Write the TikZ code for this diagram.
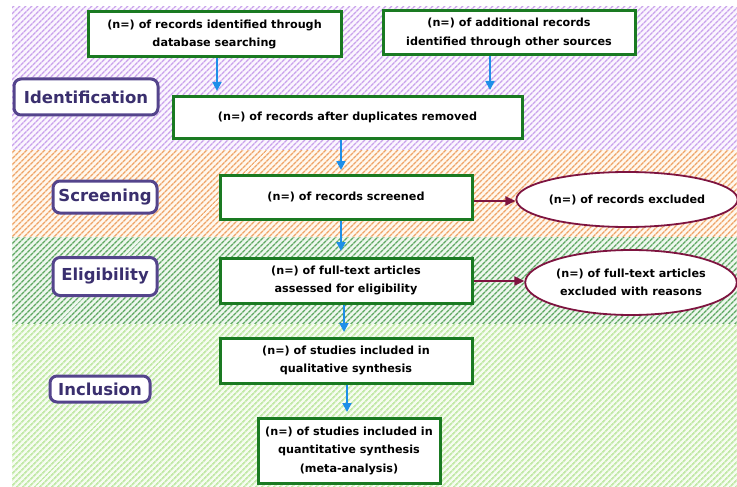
\documentclass[tikz,border=0pt]{standalone}
\usepackage{fontspec}
\setmainfont{DejaVu Sans}
\usetikzlibrary{arrows.meta,shapes.geometric,patterns.meta}
\definecolor{boxgreen}{HTML}{1A7A22}
\definecolor{labpurple}{HTML}{54448C}
\definecolor{labtext}{HTML}{3A2F6E}
\definecolor{arrblue}{HTML}{1E8FE8}
\definecolor{exred}{HTML}{7E1440}
\definecolor{hpurple}{HTML}{C9A2EC}
\definecolor{bpurple}{HTML}{FBF6FE}
\definecolor{horange}{HTML}{EFA468}
\definecolor{borange}{HTML}{FFF8EE}
\definecolor{hgreen}{HTML}{5FA862}
\definecolor{bgreen}{HTML}{EEF7EE}
\definecolor{hlgreen}{HTML}{C2E9A8}
\definecolor{blgreen}{HTML}{F6FCF1}
\tikzset{
  procbox/.style={draw=boxgreen,line width=3pt,fill=white,align=center,
    font=\bfseries\fontsize{11.2}{18.5}\selectfont,inner sep=0pt},
  exbox/.style={ellipse,draw=exred,line width=1.8pt,fill=white,align=center,
    font=\bfseries\fontsize{11.2}{18.5}\selectfont,inner sep=0pt},
  stagelab/.style={draw=labpurple,line width=3pt,fill=white,rounded corners=7pt,
    text=labtext,font=\bfseries\fontsize{16.5}{18}\selectfont,inner sep=0pt},
  flowarr/.style={draw=arrblue,line width=1.8pt,-{Triangle[width=9pt,length=9pt]}},
  exarr/.style={draw=exred,line width=1.8pt,-{Triangle[width=9pt,length=10pt]}},
}
\begin{document}
\begin{tikzpicture}[x=1pt,y=-1pt]
\useasboundingbox (0,0) rectangle (737,487);
% bands
\fill[bpurple] (12,7) rectangle (737,150);
\fill[pattern={Lines[angle=45,distance=4pt,line width=1.5pt]},pattern color=hpurple] (12,7) rectangle (737,150);
\fill[borange] (12,150) rectangle (737,237);
\fill[pattern={Lines[angle=45,distance=4pt,line width=1.5pt]},pattern color=horange] (12,150) rectangle (737,237);
\fill[bgreen] (12,237) rectangle (737,324);
\fill[pattern={Lines[angle=45,distance=4pt,line width=1.5pt]},pattern color=hgreen] (12,237) rectangle (737,324);
\fill[blgreen] (12,324) rectangle (737,487);
\fill[pattern={Lines[angle=45,distance=4pt,line width=1.8pt]},pattern color=hlgreen] (12,324) rectangle (737,487);
% stage labels
\node[stagelab,minimum width=144pt,minimum height=36pt] (lid) at (86,97) {Identification};
\node[stagelab,minimum width=104pt,minimum height=32pt] (lsc) at (105,197) {Screening};
\node[stagelab,minimum width=104pt,minimum height=38pt] (lel) at (105,276.5) {Eligibility};
\node[stagelab,minimum width=100pt,minimum height=26pt] (lin) at (100,389) {Inclusion};
% boxes
\node[procbox,minimum width=253pt,minimum height=45pt] (b1) at (214.5,34.5) {(n=) of records identified through\\database searching};
\node[procbox,minimum width=252pt,minimum height=44pt] (b2) at (509,33) {(n=) of additional records\\identified through other sources};
\node[procbox,minimum width=349pt,minimum height=41pt] (b3) at (347.5,117.5) {(n=) of records after duplicates removed};
\node[procbox,minimum width=252pt,minimum height=44pt] (b4) at (346,197) {(n=) of records screened};
\node[procbox,minimum width=252pt,minimum height=45pt] (b5) at (346,280.5) {(n=) of full-text articles\\assessed for eligibility};
\node[procbox,minimum width=252pt,minimum height=45pt] (b6) at (346,360.5) {(n=) of studies included in\\qualitative synthesis};
\node[procbox,minimum width=182pt,minimum height=65pt] (b7) at (349,450.5) {(n=) of studies included in\\quantitative synthesis\\(meta-analysis)};
% exclusion ellipses
\node[exbox,minimum width=206pt,minimum height=55pt] (e1) at (627,199.5) {(n=) of records excluded};
\node[exbox,minimum width=208pt,minimum height=65pt] (e2) at (631,282.5) {(n=) of full-text articles\\excluded with reasons};
% arrows
\coordinate (t1) at (217,91);
\coordinate (t2) at (490,90);
\coordinate (t3) at (341,170);
\coordinate (t4) at (341,251);
\coordinate (t5) at (344,332);
\coordinate (t6) at (347,412);
\draw[flowarr] (b1.south -| t1) -- (t1);
\draw[flowarr] (b2.south -| t2) -- (t2);
\draw[flowarr] (b3.south -| t3) -- (t3);
\draw[flowarr] (b4.south -| t4) -- (t4);
\draw[flowarr] (b5.south -| t5) -- (t5);
\draw[flowarr] (b6.south -| t6) -- (t6);
\draw[exarr] (b4.east |- 0,201) -- (e1.west |- 0,201);
\draw[exarr] (b5.east |- 0,281) -- (e2.west |- 0,281);
\end{tikzpicture}
\end{document}
